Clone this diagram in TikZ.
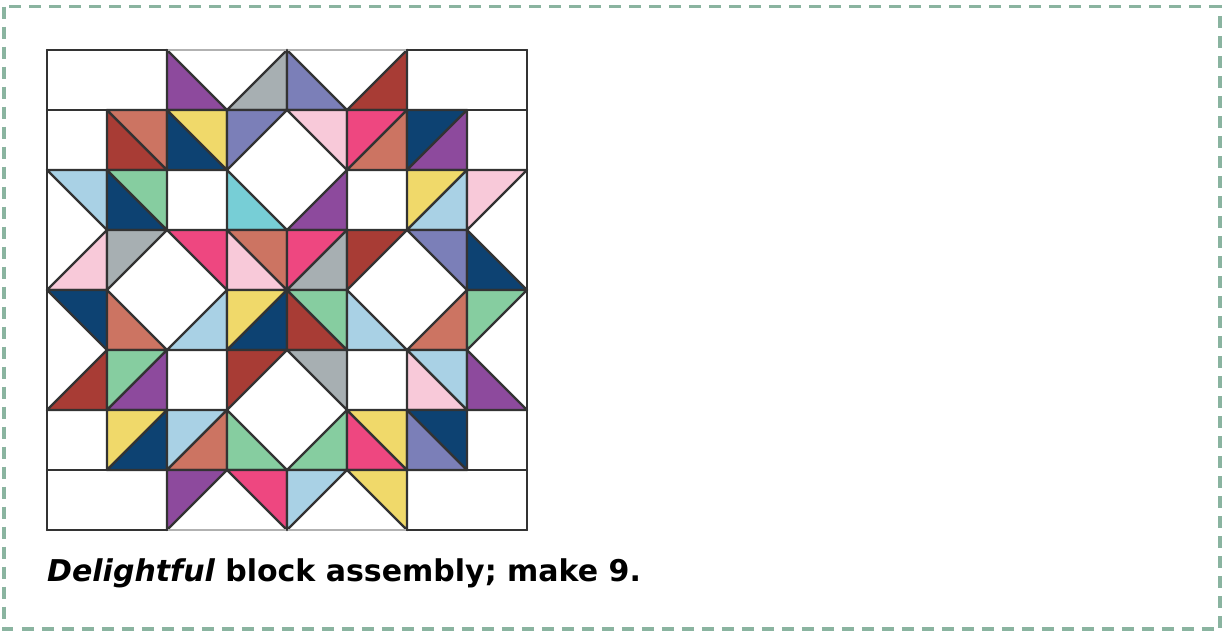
\documentclass[tikz,border=0pt]{standalone}
\usepackage{fontspec}
\setmainfont{DejaVu Sans}
\definecolor{qred}{HTML}{A83C35}
\definecolor{qsalmon}{HTML}{CC7462}
\definecolor{qnavy}{HTML}{0D4272}
\definecolor{qyellow}{HTML}{F0D96A}
\definecolor{qperi}{HTML}{7B7FB8}
\definecolor{qlpink}{HTML}{F8C9D9}
\definecolor{qhpink}{HTML}{EE4780}
\definecolor{qpurple}{HTML}{8D4A9D}
\definecolor{qlblue}{HTML}{A9D1E5}
\definecolor{qgreen}{HTML}{86CDA0}
\definecolor{qteal}{HTML}{77CED6}
\definecolor{qgray}{HTML}{A7AFB2}
\definecolor{seam}{HTML}{333333}
\definecolor{framegreen}{HTML}{8AB4A0}
% one half-square triangle: colour, then three corners in (column,row)
\newcommand\hst[4]{\filldraw[patch,fill=#1] #2 -- #3 -- #4 -- cycle;}
\tikzset{
  frame/.style={draw=framegreen,line width=3.4pt,dash pattern=on 12pt off 8pt},
  patch/.style={draw=seam,line width=2.3pt,line join=round},
  seamline/.style={draw=seam,line width=2.3pt,line cap=round},
  softseam/.style={draw=gray!60,line width=2.3pt},
  caption/.style={anchor=base west,inner sep=0pt,font=\fontsize{30}{36}\selectfont\bfseries}
}
\begin{document}
\begin{tikzpicture}[x=1pt,y=-1pt]
\useasboundingbox (0,0) rectangle (1225,632);
\draw[frame] (4,6.5) rectangle (1220,629);
\begin{scope}[shift={(47,50)},x=60pt,y=-60pt]
  % row 0
  \hst{qpurple}{(2,0)}{(2,1)}{(3,1)}
  \hst{qgray}{(3,1)}{(4,0)}{(4,1)}
  \hst{qperi}{(4,0)}{(4,1)}{(5,1)}
  \hst{qred}{(5,1)}{(6,0)}{(6,1)}
  % row 1
  \hst{qred}{(1,1)}{(1,2)}{(2,2)}
  \hst{qsalmon}{(1,1)}{(2,1)}{(2,2)}
  \hst{qnavy}{(2,1)}{(2,2)}{(3,2)}
  \hst{qyellow}{(2,1)}{(3,1)}{(3,2)}
  \hst{qperi}{(3,1)}{(4,1)}{(3,2)}
  \hst{qlpink}{(4,1)}{(5,1)}{(5,2)}
  \hst{qhpink}{(5,1)}{(6,1)}{(5,2)}
  \hst{qsalmon}{(6,1)}{(6,2)}{(5,2)}
  \hst{qnavy}{(6,1)}{(7,1)}{(6,2)}
  \hst{qpurple}{(7,1)}{(7,2)}{(6,2)}
  % row 2
  \hst{qlblue}{(0,2)}{(1,2)}{(1,3)}
  \hst{qnavy}{(1,2)}{(1,3)}{(2,3)}
  \hst{qgreen}{(1,2)}{(2,2)}{(2,3)}
  \hst{qteal}{(3,2)}{(3,3)}{(4,3)}
  \hst{qpurple}{(5,2)}{(5,3)}{(4,3)}
  \hst{qyellow}{(6,2)}{(7,2)}{(6,3)}
  \hst{qlblue}{(7,2)}{(7,3)}{(6,3)}
  \hst{qlpink}{(7,2)}{(8,2)}{(7,3)}
  % row 3
  \hst{qlpink}{(1,3)}{(1,4)}{(0,4)}
  \hst{qgray}{(1,3)}{(2,3)}{(1,4)}
  \hst{qhpink}{(2,3)}{(3,3)}{(3,4)}
  \hst{qlpink}{(3,3)}{(3,4)}{(4,4)}
  \hst{qsalmon}{(3,3)}{(4,3)}{(4,4)}
  \hst{qhpink}{(4,3)}{(5,3)}{(4,4)}
  \hst{qgray}{(5,3)}{(5,4)}{(4,4)}
  \hst{qred}{(5,3)}{(6,3)}{(5,4)}
  \hst{qperi}{(6,3)}{(7,3)}{(7,4)}
  \hst{qnavy}{(7,3)}{(7,4)}{(8,4)}
  % row 4
  \hst{qnavy}{(0,4)}{(1,4)}{(1,5)}
  \hst{qsalmon}{(1,4)}{(1,5)}{(2,5)}
  \hst{qlblue}{(3,4)}{(3,5)}{(2,5)}
  \hst{qyellow}{(3,4)}{(4,4)}{(3,5)}
  \hst{qnavy}{(4,4)}{(4,5)}{(3,5)}
  \hst{qred}{(4,4)}{(4,5)}{(5,5)}
  \hst{qgreen}{(4,4)}{(5,4)}{(5,5)}
  \hst{qlblue}{(5,4)}{(5,5)}{(6,5)}
  \hst{qsalmon}{(7,4)}{(7,5)}{(6,5)}
  \hst{qgreen}{(7,4)}{(8,4)}{(7,5)}
  % row 5
  \hst{qred}{(1,5)}{(1,6)}{(0,6)}
  \hst{qgreen}{(1,5)}{(2,5)}{(1,6)}
  \hst{qpurple}{(2,5)}{(2,6)}{(1,6)}
  \hst{qred}{(3,5)}{(4,5)}{(3,6)}
  \hst{qgray}{(4,5)}{(5,5)}{(5,6)}
  \hst{qlblue}{(6,5)}{(7,5)}{(7,6)}
  \hst{qlpink}{(6,5)}{(6,6)}{(7,6)}
  \hst{qpurple}{(7,5)}{(7,6)}{(8,6)}
  % row 6
  \hst{qyellow}{(1,6)}{(2,6)}{(1,7)}
  \hst{qnavy}{(2,6)}{(2,7)}{(1,7)}
  \hst{qlblue}{(2,6)}{(3,6)}{(2,7)}
  \hst{qsalmon}{(3,6)}{(3,7)}{(2,7)}
  \hst{qgreen}{(3,6)}{(3,7)}{(4,7)}
  \hst{qgreen}{(5,6)}{(5,7)}{(4,7)}
  \hst{qhpink}{(5,6)}{(5,7)}{(6,7)}
  \hst{qyellow}{(5,6)}{(6,6)}{(6,7)}
  \hst{qperi}{(6,6)}{(6,7)}{(7,7)}
  \hst{qnavy}{(6,6)}{(7,6)}{(7,7)}
  % row 7
  \hst{qpurple}{(2,7)}{(3,7)}{(2,8)}
  \hst{qhpink}{(3,7)}{(4,7)}{(4,8)}
  \hst{qlblue}{(4,7)}{(5,7)}{(4,8)}
  \hst{qyellow}{(5,7)}{(6,7)}{(6,8)}
  % straight seams, left open through the white diamonds and geese
  \draw[softseam] (2,0) -- (6,0) (2,8) -- (6,8);
  \draw[seamline] (0,0) -- (2,0) (6,0) -- (8,0)
    (0,1) -- (8,1)
    (0,2) -- (3,2) (5,2) -- (8,2)
    (1,3) -- (7,3)
    (0,4) -- (1,4) (3,4) -- (5,4) (7,4) -- (8,4)
    (1,5) -- (7,5)
    (0,6) -- (3,6) (5,6) -- (8,6)
    (0,7) -- (8,7)
    (0,8) -- (2,8) (6,8) -- (8,8);
  \draw[seamline] (0,0) -- (0,8)
    (1,1) -- (1,7)
    (2,0) -- (2,3) (2,5) -- (2,8)
    (3,1) -- (3,7)
    (4,0) -- (4,1) (4,3) -- (4,5) (4,7) -- (4,8)
    (5,1) -- (5,7)
    (6,0) -- (6,3) (6,5) -- (6,8)
    (7,1) -- (7,7)
    (8,0) -- (8,8);
\end{scope}
\node[caption] (cap) at (47,581) {\itshape Delightful\upshape{} block assembly; make 9.};
\end{tikzpicture}
\end{document}
